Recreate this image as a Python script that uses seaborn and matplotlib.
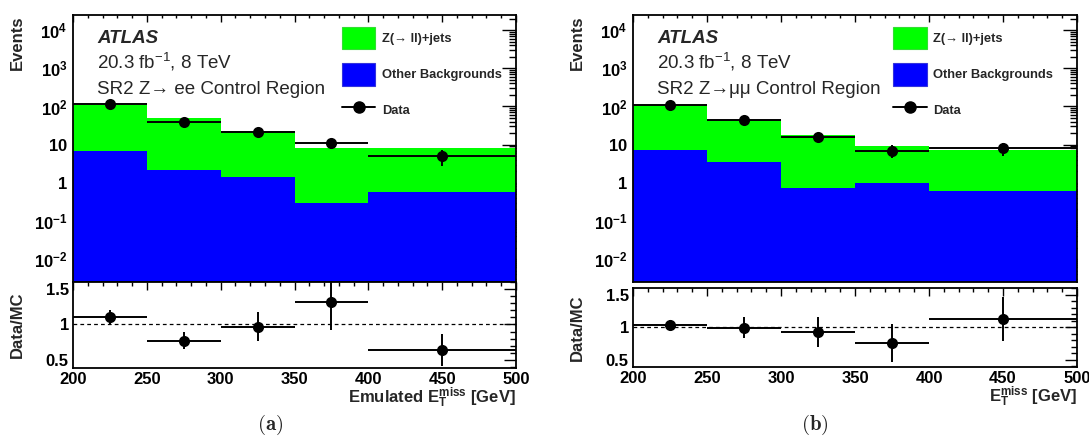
import numpy as np
import pandas as pd
import matplotlib
matplotlib.use("Agg")
import matplotlib.pyplot as plt
import seaborn as sns
from matplotlib.patches import Patch
from matplotlib.lines import Line2D
from matplotlib.ticker import (FixedLocator, FixedFormatter, MultipleLocator,
                               LogLocator, NullFormatter)

# ---------------- data ----------------
bin_edges = [200, 250, 300, 350, 400, 500]
bin_centers = [225, 275, 325, 375, 450]
bin_halfwidths = [25, 25, 25, 25, 50]

# (a) Z -> ee control region
ee_zjets = [99.0, 47.8, 21.6, 8.0, 7.5]
ee_other = [7.0, 2.2, 1.43, 0.30, 0.58]
ee_data = [117, 39, 22, 11, 5]
ee_ratio = [1.10, 0.77, 0.97, 1.32, 0.64]
ee_ratio_err = [0.10, 0.12, 0.21, 0.40, 0.23]

# (b) Z -> mumu control region
mm_zjets = [98.6, 41.5, 16.9, 8.3, 6.6]
mm_other = [7.4, 3.45, 0.74, 0.98, 0.61]
mm_data = [110, 45, 16, 7, 8]
mm_ratio = [1.03, 0.99, 0.92, 0.75, 1.12]
mm_ratio_err = [0.08, 0.16, 0.23, 0.29, 0.34]

label_z = "Z(\u2192 ll)+jets"
label_other = "Other Backgrounds"
label_data = "Data"

ytick_vals = [1e-2, 1e-1, 1, 10, 1e2, 1e3, 1e4]
ytick_labels = [r"$\mathbf{10^{-2}}$", r"$\mathbf{10^{-1}}$", r"$\mathbf{1}$",
                r"$\mathbf{10}$", r"$\mathbf{10^{2}}$", r"$\mathbf{10^{3}}$",
                r"$\mathbf{10^{4}}$"]
ratio_ticks = [0.5, 1.0, 1.5]
ratio_tick_labels = ["0.5", "1", "1.5"]
x_ticks = [200, 250, 300, 350, 400, 450, 500]

panels = [
    dict(zjets=ee_zjets, other=ee_other, data=ee_data, ratio=ee_ratio,
         rerr=ee_ratio_err, region="SR2 Z\u2192 ee Control Region",
         xlabel=r"Emulated $\mathbf{E_{T}^{miss}}$ [GeV]", caption=r"$\mathbf{(a)}$"),
    dict(zjets=mm_zjets, other=mm_other, data=mm_data, ratio=mm_ratio,
         rerr=mm_ratio_err, region="SR2 Z\u2192\u03bc\u03bc Control Region",
         xlabel=r"$\mathbf{E_{T}^{miss}}$ [GeV]", caption=r"$\mathbf{(b)}$"),
]

# ---------------- style ----------------
sns.set_style("white")
plt.rcParams["font.family"] = ["Liberation Sans", "DejaVu Sans"]
plt.rcParams["mathtext.fontset"] = "custom"
plt.rcParams["mathtext.rm"] = "Liberation Sans"
plt.rcParams["mathtext.bf"] = "Liberation Sans:bold"
plt.rcParams["mathtext.it"] = "Liberation Sans:italic"

W, H = 1089, 441
fig = plt.figure(figsize=(W / 100, H / 100), dpi=100)

GREEN = "#00ff00"
BLUE = "#0000ff"

layout = [
    dict(top=(73, 15, 516, 282), bot=(73, 282, 516, 368), capx=270, legx=0.607),
    dict(top=(633, 15, 1077, 282), bot=(633, 288, 1077, 367), capx=815, legx=0.586),
]


def px_axes(x0, y0, x1, y1):
    return fig.add_axes([x0 / W, 1 - y1 / H, (x1 - x0) / W, (y1 - y0) / H])


for p, lay in zip(panels, layout):
    ax = px_axes(*lay["top"])
    rax = px_axes(*lay["bot"])

    df = pd.DataFrame({
        "x": bin_centers * 2,
        "w": list(p["zjets"]) + list(p["other"]),
        "comp": [label_z] * 5 + [label_other] * 5,
    })
    ax.set_yscale("log")
    sns.histplot(data=df, x="x", weights="w", hue="comp",
                 hue_order=[label_z, label_other], multiple="stack",
                 bins=bin_edges, element="step", fill=True, alpha=1,
                 palette=[GREEN, BLUE], linewidth=0, legend=False, ax=ax)

    # data
    ax.errorbar(bin_centers, p["data"], xerr=bin_halfwidths,
                yerr=np.sqrt(p["data"]), fmt="none", ecolor="black",
                elinewidth=1.4, capsize=0, zorder=5)
    sns.scatterplot(x=bin_centers, y=p["data"], color="black", s=64,
                    linewidth=0, ax=ax, zorder=6, legend=False)

    ax.set_xlim(200, 500)
    ax.set_ylim(2.5e-3, 2.5e4)
    ax.yaxis.set_major_locator(FixedLocator(ytick_vals))
    ax.yaxis.set_major_formatter(FixedFormatter(ytick_labels))
    ax.yaxis.set_minor_locator(LogLocator(base=10, subs=np.arange(2, 10), numticks=20))
    ax.yaxis.set_minor_formatter(NullFormatter())
    ax.xaxis.set_major_locator(MultipleLocator(50))
    ax.xaxis.set_minor_locator(MultipleLocator(10))
    ax.tick_params(axis="x", labelbottom=False)
    ax.tick_params(which="both", direction="in", top=True, right=True,
                   width=1.0, colors="black")
    ax.tick_params(axis="y", which="major", length=10, labelsize=12, pad=4)
    ax.tick_params(axis="y", which="minor", length=5)
    ax.tick_params(axis="x", which="major", length=5)
    ax.tick_params(axis="x", which="minor", length=2.5)
    ax.set_xlabel("")
    ax.set_ylabel("Events", loc="top", fontsize=12, fontweight="bold")
    ax.yaxis.set_label_coords(-0.108, 1.0)
    for s in ax.spines.values():
        s.set_linewidth(1.3)
        s.set_color("black")

    # annotations
    ax.text(0.054, 0.895, "ATLAS", transform=ax.transAxes, fontsize=13.5,
            fontweight="bold", fontstyle="italic")
    ax.text(0.054, 0.80, r"20.3 fb$^{\mathregular{-1}}$, 8 TeV", transform=ax.transAxes,
            fontsize=13.5)
    ax.text(0.054, 0.705, p["region"], transform=ax.transAxes, fontsize=13.5)

    handles = [
        Patch(facecolor=GREEN, edgecolor="#33dd33", linewidth=0.8),
        Patch(facecolor=BLUE, edgecolor="#3333dd", linewidth=0.8),
        Line2D([0], [0], color="black", lw=1.4, marker="o", markersize=8),
    ]
    ax.legend(handles, [label_z, label_other, label_data], loc="upper left",
              bbox_to_anchor=(lay["legx"], 0.955), frameon=False,
              prop={"weight": "bold", "size": 9.3}, handlelength=2.6,
              handleheight=2.3, labelspacing=1.05, borderpad=0,
              borderaxespad=0, handletextpad=0.5)

    # ratio
    rax.axhline(1.0, color="black", lw=0.9, ls=(0, (3, 2.5)), zorder=1)
    rax.errorbar(bin_centers, p["ratio"], xerr=bin_halfwidths, yerr=p["rerr"],
                 fmt="none", ecolor="black", elinewidth=1.4, capsize=0, zorder=5)
    sns.scatterplot(x=bin_centers, y=p["ratio"], color="black", s=64,
                    linewidth=0, ax=rax, zorder=6, legend=False)
    rax.set_xlim(200, 500)
    rax.set_ylim(0.385, 1.6)
    rax.yaxis.set_major_locator(FixedLocator(ratio_ticks))
    rax.yaxis.set_major_formatter(FixedFormatter(ratio_tick_labels))
    rax.yaxis.set_minor_locator(MultipleLocator(0.1))
    rax.xaxis.set_major_locator(FixedLocator(x_ticks))
    rax.xaxis.set_minor_locator(MultipleLocator(10))
    rax.tick_params(which="both", direction="in", top=True, right=True,
                    width=1.0, colors="black")
    rax.tick_params(axis="y", which="major", length=8.5, labelsize=12, pad=3)
    rax.tick_params(axis="y", which="minor", length=4.5)
    rax.tick_params(axis="x", which="major", length=6, labelsize=12, pad=3)
    rax.tick_params(axis="x", which="minor", length=3)
    for lab in rax.get_xticklabels() + rax.get_yticklabels():
        lab.set_fontweight("bold")
    rax.set_ylabel("Data/MC", fontsize=12, fontweight="bold")
    rax.yaxis.set_label_coords(-0.108, 0.5)
    rax.set_xlabel(p["xlabel"], loc="right", fontsize=12, fontweight="bold")
    bh = lay["bot"][3] - lay["bot"][1]
    rax.xaxis.set_label_coords(1.0, -17.5 / bh)
    for s in rax.spines.values():
        s.set_linewidth(1.3)
        s.set_color("black")

    fig.text(lay["capx"] / W, 1 - 425 / H, p["caption"], ha="center",
             va="center", fontsize=15, math_fontfamily="cm")

fig.savefig("out.png", dpi=100)
